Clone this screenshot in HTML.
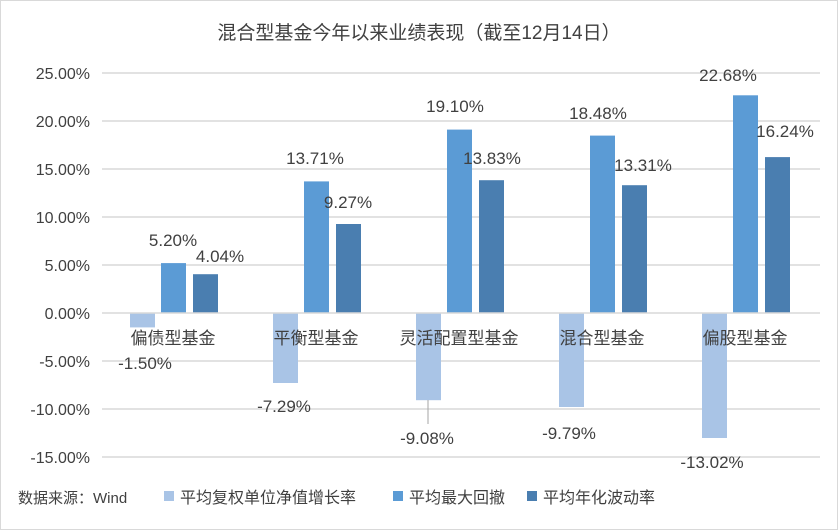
<!DOCTYPE html><html><head><meta charset="utf-8"><style>body{margin:0;background:#fff}svg{display:block}text{font-family:"Liberation Sans","Noto Sans CJK SC",sans-serif;fill:#404040}</style></head><body>
<svg width="838" height="530" xmlns="http://www.w3.org/2000/svg">
<rect x="0.5" y="0.5" width="837" height="529" fill="#fff" stroke="#D9D9D9"/>
<text x="419" y="39" font-size="19" text-anchor="middle" fill="#595959">混合型基金今年以来业绩表现（截至12月14日）</text>
<g stroke="#D9D9D9" stroke-width="1.5">
<line x1="102" x2="820" y1="73" y2="73"/><line x1="102" x2="820" y1="121" y2="121"/><line x1="102" x2="820" y1="169" y2="169"/><line x1="102" x2="820" y1="217" y2="217"/><line x1="102" x2="820" y1="265" y2="265"/><line x1="102" x2="820" y1="361" y2="361"/><line x1="102" x2="820" y1="409" y2="409"/><line x1="102" x2="820" y1="457" y2="457"/>
</g>
<g font-size="16" text-anchor="end">
<text x="90" y="79">25.00%</text><text x="90" y="127">20.00%</text><text x="90" y="175">15.00%</text><text x="90" y="223">10.00%</text><text x="90" y="271">5.00%</text><text x="90" y="319">0.00%</text><text x="90" y="367">-5.00%</text><text x="90" y="415">-10.00%</text><text x="90" y="463">-15.00%</text>
</g>
<g>
<rect x="130" y="313" width="25" height="14.4" fill="#A9C4E6"/><rect x="161" y="263.1" width="25" height="49.9" fill="#5B9BD5"/><rect x="193" y="274.2" width="25" height="38.8" fill="#4A7EB0"/>
<rect x="273" y="313" width="25" height="70" fill="#A9C4E6"/><rect x="304" y="181.4" width="25" height="131.6" fill="#5B9BD5"/><rect x="336" y="224" width="25" height="89" fill="#4A7EB0"/>
<rect x="416" y="313" width="25" height="87.2" fill="#A9C4E6"/><rect x="447" y="129.6" width="25" height="183.4" fill="#5B9BD5"/><rect x="479" y="180.2" width="25" height="132.8" fill="#4A7EB0"/>
<rect x="559" y="313" width="25" height="94" fill="#A9C4E6"/><rect x="590" y="135.6" width="25" height="177.4" fill="#5B9BD5"/><rect x="622" y="185.2" width="25" height="127.8" fill="#4A7EB0"/>
<rect x="702" y="313" width="25" height="125" fill="#A9C4E6"/><rect x="733" y="95.3" width="25" height="217.7" fill="#5B9BD5"/><rect x="765" y="157.1" width="25" height="155.9" fill="#4A7EB0"/>
</g>
<line x1="102" x2="820" y1="313" y2="313" stroke="#D9D9D9" stroke-width="1.5"/>
<line x1="428" x2="428" y1="400" y2="424" stroke="#A6A6A6"/>
<g font-size="17" text-anchor="middle">
<text x="173" y="344">偏债型基金</text><text x="316" y="344">平衡型基金</text><text x="459" y="344">灵活配置型基金</text><text x="602" y="344">混合型基金</text><text x="745" y="344">偏股型基金</text>
</g>
<g font-size="17" text-anchor="middle">
<text x="173" y="246">5.20%</text><text x="220" y="262">4.04%</text><text x="315" y="164">13.71%</text><text x="348" y="208">9.27%</text><text x="455" y="112">19.10%</text><text x="492" y="164">13.83%</text><text x="598" y="119">18.48%</text><text x="643" y="171">13.31%</text><text x="728" y="81">22.68%</text><text x="785" y="137">16.24%</text>
<text x="145" y="369">-1.50%</text><text x="284" y="412">-7.29%</text><text x="427" y="444">-9.08%</text><text x="569" y="439">-9.79%</text><text x="712" y="468">-13.02%</text>
</g>
<text x="18" y="503" font-size="15" fill="#000">数据来源：Wind</text>
<g font-size="16">
<rect x="164" y="491" width="10" height="10" fill="#A9C4E6"/><text x="180" y="503">平均复权单位净值增长率</text>
<rect x="393" y="491" width="10" height="10" fill="#5B9BD5"/><text x="409" y="503">平均最大回撤</text>
<rect x="527" y="491" width="10" height="10" fill="#4A7EB0"/><text x="543" y="503">平均年化波动率</text>
</g>
</svg></body></html>
